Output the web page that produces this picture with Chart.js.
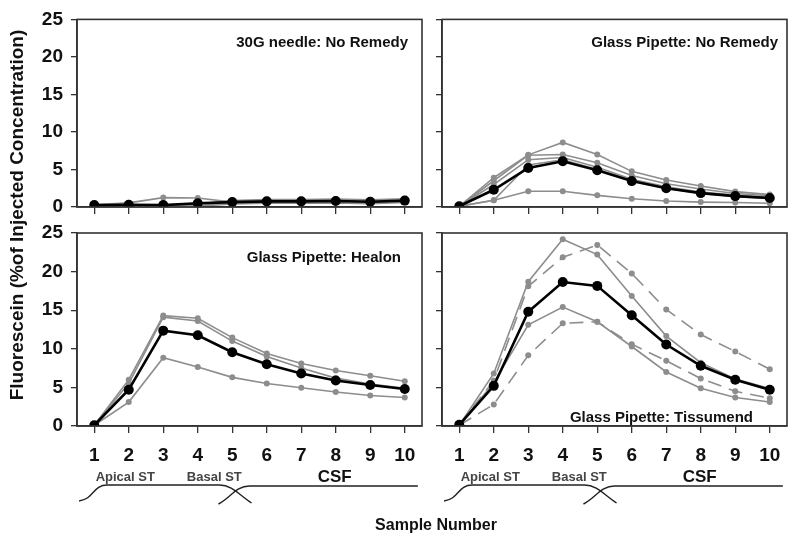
<!DOCTYPE html>
<html lang="en">
<head>
    <meta charset="UTF-8">
    <title>Fluorescein samples</title>
    <script src="https://cdn.jsdelivr.net/npm/chart.js@4.4.0/dist/chart.umd.min.js"></script>
    <style>
        body{
            margin: 0;
            background: white;
            font-family: "Liberation Sans", Arial, sans-serif;
        }
        #wrap{
            position: relative;
            width: 795px;
            height: 542px;
        }
        #wrap canvas{
            position: absolute;
            left: 0;
            top: 0;
        }
        .lbl{
            position: absolute;
            font-weight: bold;
            color: #111;
            white-space: nowrap;
        }
    </style>
</head>
<body>
<div id="wrap">
    <canvas id="c1" width="795" height="542"></canvas>
    <canvas id="c2" width="795" height="542"></canvas>
    <canvas id="c3" width="795" height="542"></canvas>
    <canvas id="c4" width="795" height="542"></canvas>
    <div class="lbl" style="left:-183px; top:203px; width:400px; height:24px; line-height:24px; text-align:center; font-size:19px; transform:rotate(-90deg);">Fluorescein (%of Injected Concentration)</div>
    <div class="lbl" style="left:336px; top:514px; width:200px; line-height:22px; text-align:center; font-size:16px;">Sample Number</div>
</div>
<script>
    // sample numbers on the x axis
    const samples = ['1', '2', '3', '4', '5', '6', '7', '8', '9', '10'];
    const yTicks = [0, 5, 10, 15, 20, 25];

    // 30G needle: No Remedy
    const needleMean = [0.25, 0.3, 0.25, 0.5, 0.65, 0.75, 0.75, 0.8, 0.7, 0.85];
    const needleRun1 = [0.3, 0.55, 1.25, 1.2, 0.65, 0.7, 0.8, 0.85, 0.75, 0.85];
    const needleRun2 = [0.3, 0.3, 0.0, 0.4, 0.85, 1.0, 1.0, 1.05, 0.95, 1.1];
    const needleRun3 = [0.2, 0.2, 0.0, 0.2, 0.55, 0.7, 0.65, 0.7, 0.6, 0.8];
    const needleRun4 = [0.2, 0.15, 0.0, 0.1, 0.4, 0.5, 0.5, 0.55, 0.45, 0.6];

    // Glass Pipette: No Remedy
    const pipetteMean = [0.1, 2.3, 5.2, 6.1, 4.9, 3.45, 2.5, 1.85, 1.45, 1.2];
    const pipetteRun1 = [0.1, 3.9, 6.95, 8.6, 7.0, 4.75, 3.6, 2.8, 2.05, 1.65];
    const pipetteRun2 = [0.1, 3.5, 6.9, 7.0, 5.9, 4.2, 3.1, 2.4, 1.8, 1.5];
    const pipetteRun3 = [0.1, 3.0, 6.3, 6.6, 5.3, 3.7, 2.7, 2.0, 1.6, 1.3];
    const pipetteRun4 = [0.1, 0.9, 5.6, 6.3, 5.0, 3.5, 2.5, 1.8, 1.4, 1.1];
    const pipetteRun5 = [0.1, 0.9, 2.1, 2.1, 1.55, 1.1, 0.8, 0.65, 0.6, 0.5];

    // Glass Pipette: Healon
    const healonMean = [0.1, 4.7, 12.35, 11.75, 9.55, 8.0, 6.8, 5.9, 5.3, 4.8];
    const healonRun1 = [0.1, 6.0, 14.3, 13.95, 11.45, 9.4, 8.1, 7.2, 6.5, 5.8];
    const healonRun2 = [0.1, 5.5, 14.1, 13.6, 11.0, 9.0, 7.5, 6.2, 5.45, 4.9];
    const healonRun3 = [0.1, 3.1, 8.85, 7.65, 6.3, 5.5, 4.95, 4.4, 3.95, 3.7];

    // Glass Pipette: Tissumend (runs 2 and 4 dashed)
    const tissuMean = [0.15, 5.2, 14.8, 18.65, 18.15, 14.35, 10.55, 7.8, 6.0, 4.7];
    const tissuRun1 = [0.1, 6.8, 18.7, 24.2, 22.2, 16.85, 11.65, 8.2, 6.1, 4.85];
    const tissuRun2 = [0.1, 5.9, 18.1, 21.85, 23.45, 19.75, 15.1, 11.85, 9.65, 7.35];
    const tissuRun3 = [0.1, 5.6, 13.1, 15.4, 13.5, 10.3, 7.0, 4.9, 3.7, 3.1];
    const tissuRun4 = [0.1, 2.8, 9.15, 13.3, 13.5, 10.6, 8.45, 6.15, 4.5, 3.6];

    // region labels under the bottom panels (x in sample units)
    const regionNames = ['Apical ST', 'Basal ST', 'CSF'];
    const regionAt = [1.9, 4.48, 7.97];

    const FONT = '"Liberation Sans", Arial, sans-serif';
    const GREY = '#8d8d8d';
    const FRAME = '#333';

    function runSet(data, dashed){
        return {
            data: data,
            borderColor: GREY,
            backgroundColor: GREY,
            borderWidth: 1.6,
            borderDash: dashed ? [14, 8] : [],
            pointRadius: 3,
            pointBorderWidth: 0,
            tension: 0
        };
    }
    function meanSet(data){
        return {
            data: data,
            borderColor: '#000',
            backgroundColor: '#000',
            borderWidth: 2.6,
            pointRadius: 5,
            pointBorderWidth: 0,
            tension: 0
        };
    }

    // frame round the plot area + panel title
    const panelPlugin = {
        id: 'panel',
        afterDraw(chart, args, opts){
            var ctx = chart.ctx, a = chart.chartArea;
            ctx.save();
            ctx.strokeStyle = FRAME;
            ctx.lineWidth = 1.6;
            ctx.strokeRect(a.left, a.top, a.right - a.left, a.bottom - a.top);
            ctx.font = 'bold 15px ' + FONT;
            ctx.fillStyle = '#111';
            ctx.textAlign = 'right';
            ctx.textBaseline = 'middle';
            var y = opts.fromBottom ? a.bottom - opts.dy : a.top + opts.dy;
            ctx.fillText(opts.text, a.right - opts.dx, y);
            ctx.restore();
        }
    };

    // Apical ST / Basal ST / CSF brackets under the x axis
    const regionPlugin = {
        id: 'regions',
        afterDraw(chart, args, opts){
            if (!opts.show) return;
            var ctx = chart.ctx, b = chart.chartArea.bottom;
            var sx = chart.scales.x;
            var px = function(v){ return sx.getPixelForValue(v - 1); };
            ctx.save();
            ctx.strokeStyle = '#222';
            ctx.lineWidth = 1.4;
            // first bracket
            ctx.beginPath();
            ctx.moveTo(px(0.56), b + 75);
            ctx.bezierCurveTo(px(1.0), b + 73, px(0.95), b + 59, px(1.38), b + 59);
            ctx.lineTo(px(4.63), b + 59);
            ctx.bezierCurveTo(px(5.0), b + 59, px(5.2), b + 69, px(5.56), b + 77);
            ctx.stroke();
            // second bracket
            ctx.beginPath();
            ctx.moveTo(px(4.6), b + 78);
            ctx.bezierCurveTo(px(4.95), b + 72, px(5.1), b + 60, px(5.5), b + 60);
            ctx.lineTo(px(10.38), b + 60);
            ctx.stroke();
            ctx.textAlign = 'center';
            ctx.textBaseline = 'middle';
            ctx.fillStyle = '#444';
            ctx.font = 'bold 13px ' + FONT;
            ctx.fillText(regionNames[0], px(regionAt[0]), b + 51);
            ctx.fillText(regionNames[1], px(regionAt[1]), b + 51);
            ctx.fillStyle = '#111';
            ctx.font = 'bold 17px ' + FONT;
            ctx.fillText(regionNames[2], px(regionAt[2]), b + 51);
            ctx.restore();
        }
    };

    function makePanel(id, area, p){
        var yW = 40, xH = 45;
        return new Chart(document.getElementById(id), {
            type: 'line',
            data: { labels: samples, datasets: p.sets },
            options: {
                responsive: false,
                animation: false,
                layout: {
                    padding: {
                        left: area.left - yW,
                        top: area.top,
                        right: 795 - area.right,
                        bottom: 542 - area.bottom - xH
                    }
                },
                plugins: {
                    legend: { display: false },
                    tooltip: { enabled: false },
                    panel: p.title,
                    regions: { show: p.showX }
                },
                scales: {
                    x: {
                        type: 'category',
                        offset: true,
                        afterFit: function(s){ s.height = xH; },
                        grid: { offset: false, drawOnChartArea: false, tickLength: 7, tickColor: FRAME, lineWidth: 1.3 },
                        border: { color: FRAME, width: 1.6 },
                        ticks: {
                            color: p.showX ? '#111' : 'transparent',
                            font: { family: FONT, size: 19, weight: 'bold' },
                            padding: 11,
                            maxRotation: 0,
                            autoSkip: false
                        }
                    },
                    y: {
                        min: 0,
                        max: 25,
                        afterFit: function(s){ s.width = yW; },
                        afterBuildTicks: function(s){ s.ticks = yTicks.map(function(v){ return { value: v }; }); },
                        grid: { drawOnChartArea: false, tickLength: 6, tickColor: FRAME, lineWidth: 1.3 },
                        border: { color: FRAME, width: 1.6 },
                        ticks: {
                            color: p.showY ? '#111' : 'transparent',
                            font: { family: FONT, size: 19, weight: 'bold' },
                            padding: 8
                        }
                    }
                }
            },
            plugins: [panelPlugin, regionPlugin]
        });
    }

    makePanel('c1', { left: 77, top: 14, right: 422, bottom: 207 }, {
        showX: false, showY: true,
        title: { text: '30G needle: No Remedy', dx: 14, dy: 23 },
        sets: [meanSet(needleMean), runSet(needleRun1), runSet(needleRun2), runSet(needleRun3), runSet(needleRun4)]
    });
    makePanel('c2', { left: 442, top: 14, right: 787, bottom: 207 }, {
        showX: false, showY: false,
        title: { text: 'Glass Pipette: No Remedy', dx: 9, dy: 23 },
        sets: [meanSet(pipetteMean), runSet(pipetteRun1), runSet(pipetteRun2), runSet(pipetteRun3), runSet(pipetteRun4), runSet(pipetteRun5)]
    });
    makePanel('c3', { left: 77, top: 233, right: 422, bottom: 426 }, {
        showX: true, showY: true,
        title: { text: 'Glass Pipette: Healon', dx: 21, dy: 25 },
        sets: [meanSet(healonMean), runSet(healonRun1), runSet(healonRun2), runSet(healonRun3)]
    });
    makePanel('c4', { left: 442, top: 233, right: 787, bottom: 426 }, {
        showX: true, showY: false,
        title: { text: 'Glass Pipette: Tissumend', dx: 34, dy: 8, fromBottom: true },
        sets: [meanSet(tissuMean), runSet(tissuRun1), runSet(tissuRun2, true), runSet(tissuRun3), runSet(tissuRun4, true)]
    });
</script>
</body>
</html>
